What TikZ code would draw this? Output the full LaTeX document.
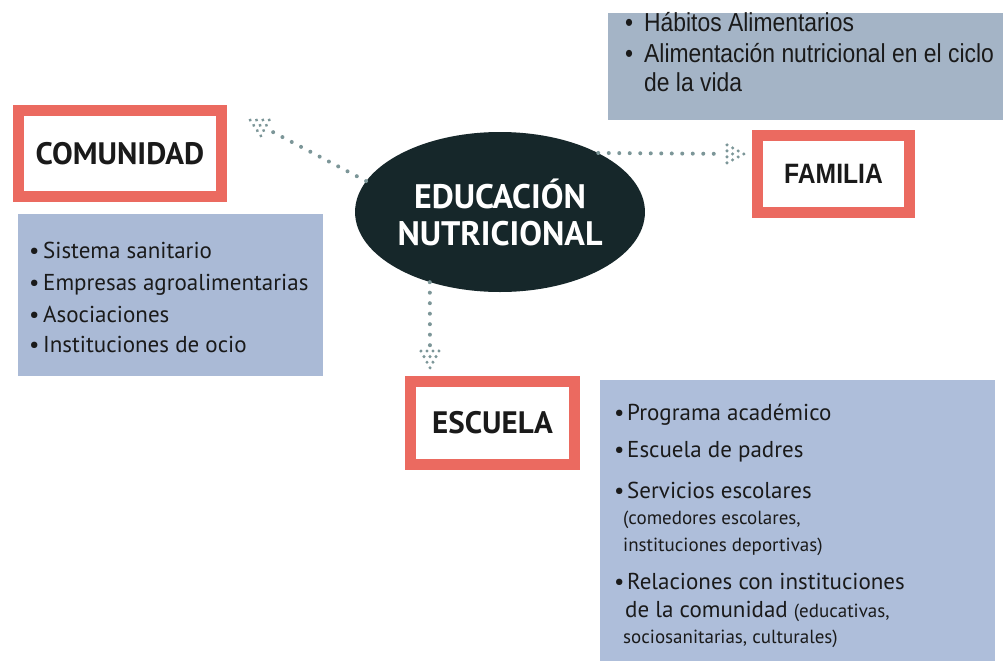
\documentclass[tikz,border=0pt]{standalone}
\usepackage{fontspec}
\setmainfont{PT Sans}
\newfontfamily\arialn[FakeStretch=0.88]{Liberation Sans}
\usetikzlibrary{decorations.markings, shapes.geometric}

\definecolor{redf}{HTML}{EB6A60}
\definecolor{boxa}{HTML}{AABAD6}
\definecolor{boxb}{HTML}{A4B4C6}
\definecolor{boxc}{HTML}{AEBEDA}
\definecolor{ink}{HTML}{16272A}
\definecolor{dotc}{HTML}{7C9698}
\definecolor{txt}{HTML}{1A1A1A}

\newcommand{\arrdots}{%
  \foreach \r in {0,...,3}{%
    \pgfmathtruncatemacro\nn{4-\r}%
    \foreach \i in {1,...,\nn}{%
      \fill[dotc] ({-17+5.6*\r},{(\i-(\nn+1)/2)*6}) circle (1.7pt);
    }%
  }%
}

\begin{document}
\begin{tikzpicture}[x=1pt,y=-1pt,
  frame/.style={draw=redf, line width=11pt, fill=white, inner sep=0pt,
    text=txt, font=\bfseries\fontsize{31}{31}\selectfont},
  listbox/.style={fill=#1, inner sep=0pt, minimum width=0pt},
  item/.style={anchor=base west, inner sep=0pt, text=txt, font=\fontsize{23}{23}\selectfont},
  smallitem/.style={item, font=\fontsize{19}{19}\selectfont},
  topitem/.style={anchor=base west, inner sep=0pt, text=txt, font=\arialn\fontsize{26}{26}\selectfont},
  conn/.style={draw=dotc, line width=4pt, line cap=round,
    dash pattern=on 0pt off 10.5pt, shorten >=20pt,
    postaction={decorate, decoration={markings, mark=at position 1 with {\arrdots}}}},
]
\useasboundingbox (0,0) rectangle (1003,661);
\fill[white] (0,0) rectangle (1003,661);

% list boxes
\node[listbox=boxb, minimum width=395pt, minimum height=107pt] (famlist) at (805.5,66.5) {};
\node[listbox=boxa, minimum width=305pt, minimum height=162pt] (comlist) at (170.5,295) {};
\node[listbox=boxc, minimum width=395pt, minimum height=281pt] (esclist) at (797.5,520.5) {};

% title frames
\node[frame, minimum width=203pt, minimum height=86pt] (com) at (120,153.5) {COMUNIDAD};
\node[frame, minimum width=152pt, minimum height=77pt,
  font=\arialn\bfseries\fontsize{28}{28}\selectfont] (fam) at (833.5,174) {FAMILIA};
\node[frame, minimum width=164pt, minimum height=83pt] (esc) at (492.5,423) {ESCUELA};

% central ellipse
\node[ellipse, fill=ink, minimum width=280pt, minimum height=160pt, inner sep=0pt,
  text=white, align=center, font=\bfseries\fontsize{34}{37}\selectfont] (edu) at (500,212)
  {EDUCACIÓN\\NUTRICIONAL};

% connectors
\coordinate (tipC) at (250,120);
\coordinate (tipF) at (744,154);
\coordinate (tipE) at (430,368);
\draw[conn] (edu.167) -- (tipC);
\draw[conn] (edu.31) -- (tipF);
\draw[conn] (edu.225) -- (tipE);

% COMUNIDAD list
\node[item] (c1) at (29,258) {\makebox[14pt][l]{•}Sistema sanitario};
\node[item] (c2) at (29,290) {\makebox[14pt][l]{•}Empresas agroalimentarias};
\node[item] (c3) at (29,322) {\makebox[14pt][l]{•}Asociaciones};
\node[item] (c4) at (29,352) {\makebox[14pt][l]{•}Instituciones de ocio};

% FAMILIA list
\node[topitem] (f1) at (625,32) {\makebox[19pt][l]{•}Hábitos Alimentarios};
\node[topitem] (f2) at (625,63) {\makebox[19pt][l]{•}Alimentación nutricional en el ciclo};
\node[topitem] (f3) at (644,91) {de la vida};

% ESCUELA list
\node[item] (e1) at (614,420) {\makebox[13pt][l]{•}Programa académico};
\node[item] (e2) at (614,457) {\makebox[13pt][l]{•}Escuela de padres};
\node[item] (e3) at (614,498) {\makebox[13pt][l]{•}Servicios escolares};
\node[smallitem] (e4) at (623,524) {(comedores escolares,};
\node[smallitem] (e5) at (623,551) {instituciones deportivas)};
\node[item] (e6) at (614,589) {\makebox[13pt][l]{•}Relaciones con instituciones};
\node[item] (e7) at (625,617) {de la comunidad {\fontsize{19}{19}\selectfont(educativas,}};
\node[smallitem] (e8) at (623,643) {sociosanitarias, culturales)};
\end{tikzpicture}
\end{document}
